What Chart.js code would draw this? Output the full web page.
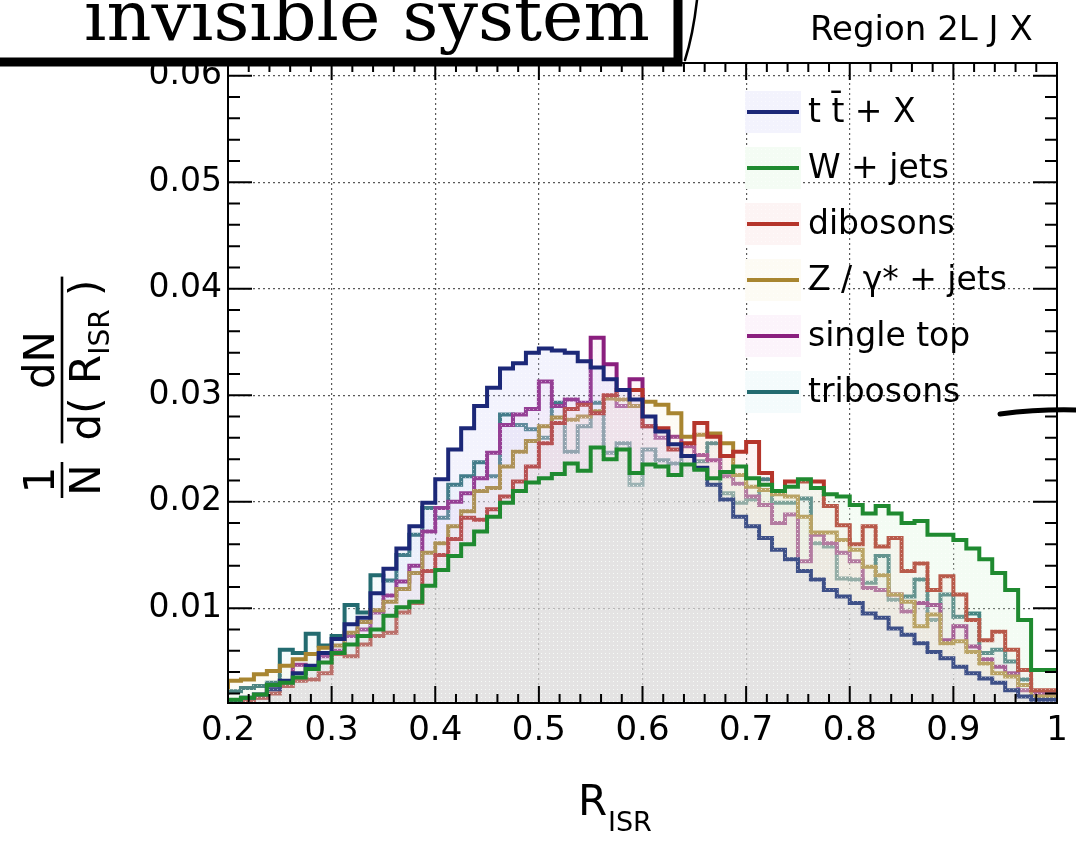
<!DOCTYPE html>
<html>
<head>
<meta charset="utf-8">
<script src="https://cdn.jsdelivr.net/npm/chart.js"></script>
<style>
  html, body { margin: 0; padding: 0; background: #fff; }
  canvas { display: block; }
</style>
</head>
<body>
<canvas id="risr" width="1076" height="865"></canvas>
<script>
// histogram binning: 64 bins of 0.0125 from 0.2 to 1.0
const binLow = 0.2;
const binWidth = 0.0125;

const seriesNames = ['t t\u0304 + X', 'W + jets', 'dibosons', 'Z / \u03b3* + jets', 'single top', 'tribosons'];

const ttbarX = [
  0.0011, 0.0013, 0.0016, 0.0019, 0.0024, 0.0032, 0.0039, 0.0046, 0.0058, 0.0071, 0.0085, 0.0091, 0.0114, 0.0137, 0.0156, 0.0177,
  0.0199, 0.0221, 0.0249, 0.0269, 0.0290, 0.0307, 0.0325, 0.0330, 0.0340, 0.0344, 0.0342, 0.0340, 0.0332, 0.0326, 0.0315, 0.0305,
  0.0296, 0.0280, 0.0266, 0.0254, 0.0243, 0.0232, 0.0216, 0.0202, 0.0186, 0.0177, 0.0166, 0.0155, 0.0146, 0.0135, 0.0127, 0.0117,
  0.0111, 0.0105, 0.0095, 0.0091, 0.0081, 0.0075, 0.0067, 0.0059, 0.0053, 0.0045, 0.0039, 0.0034, 0.0030, 0.0023, 0.0017, 0.0014
];
const wJets = [
  0.0013, 0.0014, 0.0016, 0.0019, 0.0028, 0.0030, 0.0035, 0.0043, 0.0049, 0.0058, 0.0066, 0.0074, 0.0080, 0.0093, 0.0101, 0.0106,
  0.0121, 0.0136, 0.0149, 0.0160, 0.0172, 0.0186, 0.0199, 0.0210, 0.0218, 0.0222, 0.0226, 0.0236, 0.0229, 0.0251, 0.0240, 0.0249,
  0.0227, 0.0235, 0.0233, 0.0225, 0.0235, 0.0230, 0.0222, 0.0228, 0.0233, 0.0222, 0.0216, 0.0210, 0.0214, 0.0221, 0.0213, 0.0207,
  0.0205, 0.0197, 0.0189, 0.0196, 0.0189, 0.0180, 0.0182, 0.0169, 0.0169, 0.0164, 0.0156, 0.0146, 0.0133, 0.0117, 0.0089, 0.0042
];
const dibosons = [
  0.0008, 0.0009, 0.0013, 0.0016, 0.0020, 0.0027, 0.0032, 0.0033, 0.0039, 0.0057, 0.0055, 0.0066, 0.0074, 0.0077, 0.0096, 0.0105,
  0.0135, 0.0150, 0.0165, 0.0185, 0.0183, 0.0193, 0.0205, 0.0219, 0.0233, 0.0255, 0.0274, 0.0287, 0.0291, 0.0283, 0.0300, 0.0305,
  0.0305, 0.0271, 0.0269, 0.0249, 0.0255, 0.0274, 0.0261, 0.0243, 0.0247, 0.0256, 0.0227, 0.0210, 0.0219, 0.0219, 0.0219, 0.0196,
  0.0178, 0.0160, 0.0177, 0.0158, 0.0166, 0.0135, 0.0142, 0.0117, 0.0130, 0.0113, 0.0089, 0.0070, 0.0078, 0.0061, 0.0042, 0.0023
];
const zJets = [
  0.0024, 0.0032, 0.0033, 0.0038, 0.0041, 0.0046, 0.0052, 0.0057, 0.0063, 0.0065, 0.0077, 0.0087, 0.0098, 0.0106, 0.0118, 0.0133,
  0.0152, 0.0161, 0.0177, 0.0191, 0.0210, 0.0213, 0.0233, 0.0247, 0.0257, 0.0271, 0.0279, 0.0277, 0.0280, 0.0285, 0.0297, 0.0296,
  0.0290, 0.0294, 0.0291, 0.0283, 0.0261, 0.0263, 0.0264, 0.0255, 0.0225, 0.0214, 0.0211, 0.0207, 0.0205, 0.0186, 0.0171, 0.0171,
  0.0164, 0.0155, 0.0139, 0.0131, 0.0113, 0.0106, 0.0083, 0.0094, 0.0067, 0.0069, 0.0059, 0.0048, 0.0039, 0.0036, 0.0028, 0.0017
];
const singleTop = [
  0.0009, 0.0011, 0.0014, 0.0016, 0.0024, 0.0030, 0.0047, 0.0043, 0.0055, 0.0060, 0.0074, 0.0080, 0.0096, 0.0112, 0.0125, 0.0140,
  0.0172, 0.0194, 0.0200, 0.0208, 0.0222, 0.0246, 0.0272, 0.0282, 0.0287, 0.0313, 0.0290, 0.0296, 0.0293, 0.0354, 0.0329, 0.0290,
  0.0315, 0.0271, 0.0260, 0.0261, 0.0252, 0.0244, 0.0239, 0.0224, 0.0217, 0.0205, 0.0197, 0.0180, 0.0188, 0.0144, 0.0169, 0.0161,
  0.0152, 0.0144, 0.0119, 0.0117, 0.0113, 0.0097, 0.0105, 0.0103, 0.0070, 0.0083, 0.0064, 0.0052, 0.0045, 0.0039, 0.0023, 0.0020
];
const tribosons = [
  0.0019, 0.0022, 0.0025, 0.0027, 0.0030, 0.0061, 0.0058, 0.0076, 0.0065, 0.0074, 0.0103, 0.0096, 0.0131, 0.0126, 0.0150, 0.0169,
  0.0194, 0.0185, 0.0216, 0.0224, 0.0237, 0.0224, 0.0282, 0.0272, 0.0268, 0.0260, 0.0293, 0.0247, 0.0271, 0.0293, 0.0246, 0.0255,
  0.0216, 0.0249, 0.0239, 0.0236, 0.0243, 0.0238, 0.0255, 0.0208, 0.0199, 0.0202, 0.0221, 0.0199, 0.0199, 0.0203, 0.0161, 0.0158,
  0.0128, 0.0127, 0.0124, 0.0149, 0.0108, 0.0111, 0.0127, 0.0089, 0.0113, 0.0092, 0.0095, 0.0058, 0.0061, 0.0050, 0.0033, 0.0020
];

const xTicks = [0.2, 0.3, 0.4, 0.5, 0.6, 0.7, 0.8, 0.9, 1.0];
const xTickLabels = ['0.2', '0.3', '0.4', '0.5', '0.6', '0.7', '0.8', '0.9', '1'];
const yTicks = [0.01, 0.02, 0.03, 0.04, 0.05, 0.06];
const yTickLabels = ['0.01', '0.02', '0.03', '0.04', '0.05', '0.06'];

const lineColors = ['#1c2878', '#1f8a30', '#b5352b', '#a88530', '#8a1f7e', '#236b70'];
const fillTints = [[195, 195, 245], [200, 240, 200], [245, 200, 200], [245, 235, 200], [240, 200, 235], [200, 235, 240]];
const drawOrder = [2, 1, 3, 4, 5, 6];

// ROOT-like dotted fill
function makePattern(rgb) {
  const c = document.createElement('canvas');
  c.width = 4; c.height = 4;
  const g = c.getContext('2d');
  g.fillStyle = `rgba(${rgb[0]},${rgb[1]},${rgb[2]},0.2)`;
  g.fillRect(0, 0, 4, 4);
  g.fillStyle = 'rgba(255,255,255,0.5)';
  g.fillRect(1, 1, 1, 1);
  return g.createPattern(c, 'repeat');
}

// bin edges -> step points (last edge repeats the last bin)
function steps(vals) {
  const pts = vals.map((v, i) => ({ x: binLow + i * binWidth, y: v }));
  pts.push({ x: binLow + vals.length * binWidth, y: vals[vals.length - 1] });
  return pts;
}

const allSeries = [ttbarX, wJets, dibosons, zJets, singleTop, tribosons];
const patterns = fillTints.map(makePattern);

const datasets = allSeries.map((vals, i) => ({
  label: seriesNames[i],
  data: steps(vals),
  stepped: 'after',
  borderColor: lineColors[i],
  borderWidth: 4,
  backgroundColor: patterns[i],
  fill: 'start',
  pointRadius: 0,
  tension: 0,
  order: drawOrder[i]
}));

// frame + inner ticks on all four sides
const frameTicks = {
  id: 'frameTicks',
  afterDatasetsDraw(chart) {
    const { ctx, chartArea: a, scales: { x, y } } = chart;
    ctx.save();
    ctx.strokeStyle = '#000';
    ctx.lineWidth = 2;
    ctx.beginPath();
    for (let k = 10; k <= 50; k++) {
      const px = x.getPixelForValue(k / 50);
      const len = k % 5 === 0 ? 17 : 9;
      ctx.moveTo(px, a.bottom); ctx.lineTo(px, a.bottom - len);
      ctx.moveTo(px, a.top); ctx.lineTo(px, a.top + len);
    }
    for (let k = 1; k <= 30; k++) {
      const py = y.getPixelForValue(k * 0.002);
      const len = k % 5 === 0 ? 24 : 12;
      ctx.moveTo(a.left, py); ctx.lineTo(a.left + len, py);
      ctx.moveTo(a.right, py); ctx.lineTo(a.right - len, py);
    }
    ctx.stroke();
    ctx.strokeRect(a.left, a.top, a.right - a.left, a.bottom - a.top);
    ctx.restore();
  }
};

const legendBox = {
  id: 'legendBox',
  afterDatasetsDraw(chart) {
    const { ctx, chartArea: a } = chart;
    const x0 = a.right - 312, y0 = a.top + 49, gap = 56;
    ctx.save();
    ctx.font = '33px "DejaVu Sans"';
    ctx.textBaseline = 'middle';
    ctx.textAlign = 'left';
    seriesNames.forEach((name, i) => {
      const cy = y0 + i * gap;
      ctx.fillStyle = '#fff';
      ctx.fillRect(x0, cy - 21, 56, 42);
      ctx.fillStyle = patterns[i];
      ctx.fillRect(x0, cy - 21, 56, 42);
      ctx.strokeStyle = lineColors[i];
      ctx.lineWidth = 4;
      ctx.beginPath();
      ctx.moveTo(x0 + 2, cy); ctx.lineTo(x0 + 54, cy);
      ctx.stroke();
      ctx.fillStyle = '#000';
      ctx.fillText(name, x0 + 63, cy + 1);
    });
    ctx.restore();
  }
};

const titles = {
  id: 'titles',
  afterDraw(chart) {
    const { ctx } = chart;
    ctx.save();
    ctx.fillStyle = '#000';
    ctx.textBaseline = 'alphabetic';

    // x title: R_ISR
    ctx.font = '42px "DejaVu Sans"';
    ctx.textAlign = 'left';
    ctx.fillText('R', 578, 815);
    ctx.font = '27px "DejaVu Sans"';
    ctx.fillText('ISR', 608, 831);

    // y title: 1/N dN/d(R_ISR), rotated
    const big = '42px "DejaVu Sans"', small = '28px "DejaVu Sans"';
    ctx.save();
    ctx.translate(62, 480);
    ctx.rotate(-Math.PI / 2);
    ctx.font = big;
    ctx.textAlign = 'center';
    ctx.fillText('1', 0, -8);
    ctx.fillText('N', 0, 38);
    ctx.fillRect(-18, -1.3, 36, 2.6);
    ctx.restore();

    ctx.save();
    ctx.translate(62, 360);
    ctx.rotate(-Math.PI / 2);
    ctx.font = big;
    ctx.textAlign = 'center';
    ctx.fillText('dN', 0, -8);
    ctx.textAlign = 'left';
    const w1 = ctx.measureText('d( R').width;
    const w3 = ctx.measureText(' )').width;
    ctx.font = small;
    const w2 = ctx.measureText('ISR').width;
    const total = w1 + w2 + w3;
    const s = -total / 2;
    ctx.font = big;
    ctx.fillText('d( R', s, 38);
    ctx.font = small;
    ctx.fillText('ISR', s + w1, 47);
    ctx.font = big;
    ctx.fillText(' )', s + w1 + w2, 38);
    ctx.fillRect(s - 3, -1.3, total + 6, 2.6);
    ctx.restore();

    // region label
    ctx.font = '34px "DejaVu Sans"';
    ctx.textAlign = 'left';
    ctx.fillText('Region 2L J X', 810, 40);

    // cropped caption box at the top
    ctx.fillStyle = '#fff';
    ctx.fillRect(0, 0, 678, 62);
    ctx.strokeStyle = '#000';
    ctx.lineWidth = 9;
    ctx.beginPath();
    ctx.moveTo(-10, 62); ctx.lineTo(678, 62); ctx.lineTo(678, -10);
    ctx.stroke();
    ctx.fillStyle = '#000';
    ctx.font = '70px "DejaVu Serif"';
    ctx.fillText('invisible system', 84, 40);

    // pen marks
    ctx.lineCap = 'round';
    ctx.lineWidth = 2.5;
    ctx.beginPath();
    ctx.moveTo(697, 0);
    ctx.quadraticCurveTo(693, 35, 685, 60);
    ctx.stroke();
    ctx.lineWidth = 5;
    ctx.beginPath();
    ctx.moveTo(1000, 414);
    ctx.quadraticCurveTo(1040, 409, 1076, 410);
    ctx.stroke();
    ctx.restore();
  }
};

new Chart(document.getElementById('risr'), {
  type: 'line',
  data: { datasets: datasets },
  options: {
    responsive: false,
    animation: false,
    devicePixelRatio: 1,
    layout: { padding: { top: 63, right: 19, left: 0, bottom: 0 } },
    plugins: { legend: { display: false }, tooltip: { enabled: false } },
    scales: {
      x: {
        type: 'linear',
        min: 0.2,
        max: 1.0,
        afterBuildTicks: s => { s.ticks = xTicks.map(v => ({ value: v })); },
        afterFit: s => { s.height = 162; },
        ticks: {
          autoSkip: false,
          maxRotation: 0,
          padding: 8,
          color: '#000',
          font: { family: 'DejaVu Sans', size: 34 },
          callback: (v, i) => xTickLabels[i]
        },
        grid: { color: 'rgba(0,0,0,0.65)', lineWidth: 1.2, drawTicks: false },
        border: { display: false, dash: [2, 3] }
      },
      y: {
        type: 'linear',
        min: 0.0011,
        max: 0.0612,
        afterBuildTicks: s => { s.ticks = yTicks.map(v => ({ value: v })); },
        afterFit: s => { s.width = 228; },
        ticks: {
          padding: 6,
          color: '#000',
          font: { family: 'DejaVu Sans', size: 33 },
          callback: (v, i) => yTickLabels[i]
        },
        grid: { color: 'rgba(0,0,0,0.65)', lineWidth: 1.2, drawTicks: false },
        border: { display: false, dash: [2, 3] }
      }
    }
  },
  plugins: [frameTicks, legendBox, titles]
});
</script>
</body>
</html>
